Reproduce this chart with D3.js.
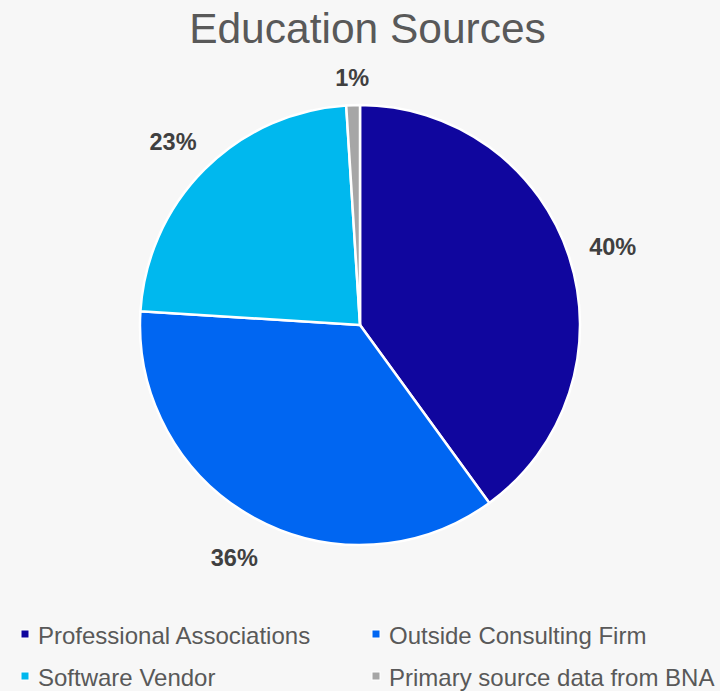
<!DOCTYPE html>
<html>
<head>
<meta charset="utf-8">
<script src="https://cdn.jsdelivr.net/npm/d3@7/dist/d3.min.js"></script>
<style>
  html, body { margin: 0; padding: 0; background: #f7f7f7; }
  svg { display: block; }
</style>
</head>
<body>
<script>
// Education sources share
const categories = ["Professional Associations", "Outside Consulting Firm", "Software Vendor", "Primary source data from BNA"];
const values = [40, 36, 23, 1];
const colors = ["#10069e", "#0066f2", "#00b8ee", "#a6a6a6"];
const title = "Education Sources";

const W = 720, H = 691;
const cx = 360, cy = 325, R = 220;
const FONT = "Liberation Sans, Arial, sans-serif";

const svg = d3.select("body").append("svg")
  .attr("width", W).attr("height", H);

svg.append("rect").attr("width", W).attr("height", H).attr("fill", "#f7f7f7");

svg.append("text")
  .attr("x", 367.5).attr("y", 42.5)
  .attr("text-anchor", "middle")
  .attr("font-family", FONT)
  .attr("font-size", 42.5)
  .attr("fill", "#595959")
  .text(title);

const data = categories.map((c, i) => ({ name: c, value: values[i], color: colors[i] }));

const pie = d3.pie().sort(null).value(d => d.value);
const arc = d3.arc().innerRadius(0).outerRadius(R);
const arcs = pie(data);

const g = svg.append("g").attr("transform", `translate(${cx},${cy})`);

g.selectAll("path.slice")
  .data(arcs)
  .join("path")
  .attr("class", "slice")
  .attr("d", arc)
  .attr("fill", d => d.data.color)
  .attr("stroke", "#ffffff")
  .attr("stroke-width", 2.5)
  .attr("stroke-linejoin", "round");

// Outside-end labels: keep a fixed gap between the circle and the label box
const gap = 20, halfH = 11, padY = 4;
const labels = g.selectAll("text.lbl")
  .data(arcs)
  .join("text")
  .attr("class", "lbl")
  .attr("text-anchor", "middle")
  .attr("dominant-baseline", "central")
  .attr("font-family", FONT)
  .attr("font-weight", "bold")
  .attr("font-size", 23.5)
  .attr("fill", "#404040")
  .text(d => d.data.value + "%");

labels.each(function(d) {
  const halfW = this.getComputedTextLength() / 2;
  const a = (d.startAngle + d.endAngle) / 2;
  const sx = Math.sin(a), sy = -Math.cos(a);
  const ext = halfW * Math.abs(sx) + halfH * Math.abs(sy);
  const r = R + gap + ext;
  d3.select(this).attr("x", r * sx).attr("y", r * sy + padY);
});

// Legend, two columns
const legend = svg.append("g");
const colX = [21, 372], rowY = [634, 676];
const items = legend.selectAll("g.item")
  .data(data)
  .join("g")
  .attr("class", "item")
  .attr("transform", (d, i) => `translate(${colX[i % 2]},${rowY[Math.floor(i / 2)]})`);

items.append("rect")
  .attr("x", 0).attr("y", -4)
  .attr("width", 8).attr("height", 8)
  .attr("fill", d => d.color)
  .attr("stroke", "#ffffff")
  .attr("stroke-width", 1);

items.append("text")
  .attr("x", 17)
  .attr("y", 1)
  .attr("dominant-baseline", "central")
  .attr("font-family", FONT)
  .attr("font-size", 24)
  .attr("fill", "#595959")
  .text(d => d.name);
</script>
</body>
</html>
